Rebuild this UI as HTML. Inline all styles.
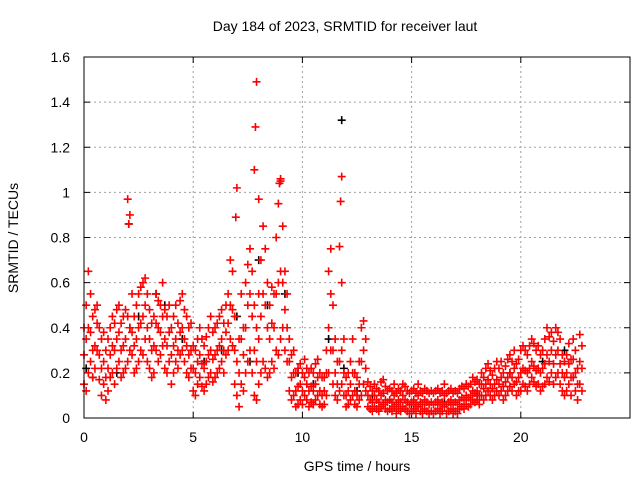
<!DOCTYPE html>
<html><head><meta charset="utf-8"><style>
body{margin:0;background:#fff;}
svg{display:block;font-family:"Liberation Sans",sans-serif;}
</style></head><body>
<svg id="chart" width="640" height="480">
<text x="345" y="31" font-size="14" text-anchor="middle">Day 184 of 2023, SRMTID for receiver laut</text>
<text x="18" y="238" font-size="14" text-anchor="middle" transform="rotate(-90 18 238)">SRMTID / TECUs</text>
<text x="357" y="471" font-size="14" text-anchor="middle">GPS time / hours</text>
<g id="grid"></g>
<g id="ticks"></g>
<g id="black"></g>
<g id="red"></g>
<rect x="84" y="57" width="546" height="361" fill="none" stroke="#000" stroke-width="1"/>
</svg>
<script>
const xTicks=[0,5,10,15,20];
const yTicks=[0,0.2,0.4,0.6,0.8,1,1.2,1.4,1.6];
const yTickLabels=["0","0.2","0.4","0.6","0.8","1","1.2","1.4","1.6"];
const startHour=0, stepHour=0.1;
const lowVals=[.15,.12,.20,.25,.18,.22,.30,.17,.10,.15,.08,.12,.18,.20,.15,.22,.25,.18,.20,.22,.25,.30,.28,.20,.22,.25,.30,.28,.35,.25,.22,.18,.20,.30,.25,.28,.32,.22,.20,.25,.15,.20,.25,.22,.28,.30,.25,.20,.18,.22,.12,.10,.15,.18,.14,.12,.15,.18,.20,.16,.18,.20,.22,.25,.20,.28,.30,.35,.32,.15,.10,.05,.15,.12,.20,.25,.30,.20,.10,.08,.15,.20,.25,.22,.18,.20,.25,.22,.30,.28,.35,.40,.30,.25,.12,.08,.10,.05,.06,.08,.06,.10,.08,.05,.07,.06,.08,.10,.06,.05,.06,.10,.20,.30,.15,.10,.08,.12,.15,.10,.05,.06,.08,.10,.06,.05,.08,.10,.15,.12,.05,.04,.03,.05,.04,.03,.05,.06,.04,.03,.04,.03,.05,.02,.04,.03,.05,.04,.03,.02,.03,.04,.02,.05,.03,.02,.04,.03,.02,.03,.02,.03,.04,.02,.03,.05,.02,.03,.04,.02,.03,.02,.04,.05,.04,.06,.05,.06,.08,.07,.08,.06,.10,.08,.10,.12,.10,.08,.10,.12,.10,.12,.08,.10,.12,.14,.12,.15,.10,.12,.12,.15,.14,.12,.15,.18,.16,.14,.15,.12,.14,.15,.18,.16,.20,.15,.18,.20,.15,.12,.10,.12,.15,.10,.18,.12,.08,.15,.12];
const midVals=[.28,.35,.40,.38,.30,.32,.42,.28,.22,.25,.18,.22,.28,.32,.30,.35,.38,.30,.32,.35,.45,.40,.38,.32,.35,.40,.42,.45,.50,.40,.35,.30,.32,.42,.40,.38,.45,.35,.32,.38,.28,.32,.35,.30,.38,.40,.35,.32,.28,.30,.22,.20,.25,.28,.24,.22,.25,.28,.30,.26,.28,.30,.32,.35,.30,.38,.42,.50,.48,.30,.25,.20,.35,.28,.40,.50,.55,.45,.30,.25,.35,.45,.55,.50,.40,.35,.42,.40,.55,.60,.65,.60,.48,.40,.25,.18,.20,.12,.14,.15,.12,.18,.15,.12,.14,.12,.15,.18,.12,.10,.12,.20,.40,.55,.30,.20,.15,.25,.30,.20,.10,.12,.15,.20,.12,.10,.15,.25,.30,.22,.10,.08,.07,.10,.08,.07,.10,.11,.08,.07,.08,.07,.10,.06,.08,.07,.10,.08,.07,.06,.07,.08,.06,.10,.07,.06,.08,.07,.06,.07,.06,.07,.08,.06,.07,.10,.06,.07,.08,.06,.07,.06,.08,.09,.08,.10,.09,.10,.12,.11,.12,.10,.15,.13,.15,.17,.15,.13,.15,.17,.15,.18,.14,.16,.18,.20,.18,.22,.16,.18,.20,.22,.21,.20,.22,.25,.23,.21,.22,.20,.22,.24,.28,.25,.30,.24,.28,.30,.24,.20,.18,.20,.24,.18,.26,.20,.15,.25,.22];
const highVals=[.40,.50,.65,.55,.45,.48,.50,.40,.35,.38,.30,.35,.40,.45,.42,.48,.50,.42,.45,.48,.97,.90,.55,.45,.50,.55,.58,.60,.62,.55,.48,.42,.45,.55,.52,.50,.60,.48,.45,.50,.40,.45,.50,.42,.52,.55,.48,.45,.40,.42,.32,.30,.35,.40,.35,.32,.36,.40,.45,.38,.40,.42,.45,.48,.42,.50,.55,.70,.65,.45,1.02,.35,.55,.40,.60,.68,.75,.65,.50,.40,.55,.70,.85,.75,.60,.50,.58,.55,.80,.95,1.05,.85,.65,.55,.35,.28,.30,.20,.22,.24,.20,.26,.22,.20,.22,.20,.24,.26,.20,.18,.18,.30,.65,.75,.50,.35,.25,.76,.60,.35,.18,.20,.25,.35,.20,.18,.25,.40,.43,.35,.16,.14,.12,.15,.13,.12,.16,.17,.14,.12,.13,.12,.15,.11,.13,.12,.15,.14,.12,.11,.12,.13,.11,.15,.12,.11,.13,.12,.11,.12,.11,.12,.13,.11,.12,.15,.11,.12,.13,.11,.12,.11,.13,.14,.13,.15,.14,.15,.18,.16,.17,.15,.20,.18,.22,.24,.21,.19,.22,.25,.22,.25,.20,.23,.26,.28,.25,.30,.24,.26,.30,.32,.30,.28,.32,.35,.33,.30,.32,.28,.30,.35,.40,.36,.38,.34,.40,.38,.35,.28,.25,.28,.33,.26,.35,.30,.22,.37,.32];
const spikeHours=[7.9,7.85,7.8,8.0,11.8,11.75,6.95,2.05,8.95,9.0];
const spikeVals=[1.49,1.29,1.10,0.97,1.07,0.96,0.89,0.86,1.04,1.06];
const blackHours=[0.1,0.4,1.5,2.05,2.1,3.3,4.5,6.3,7.0,7.6,8.0,8.4,9.2,9.8,10.5,11.2,11.8,11.9,12.5,13.2,14.0,15.0,16.5,18.0,19.5,21.0,22.0,2.5,3.7,5.5];
const blackVals=[0.22,0.18,0.2,0.86,0.4,0.55,0.35,0.3,0.45,0.25,0.7,0.5,0.55,0.2,0.15,0.35,1.32,0.22,0.12,0.1,0.08,0.06,0.07,0.1,0.2,0.25,0.3,0.45,0.5,0.25];

const X0=84,X1=630,Y0=418,Y1=57,XMAX=25,YMAX=1.6;
const xs=v=>X0+(X1-X0)*v/XMAX;
const ys=v=>Y0-(Y0-Y1)*v/YMAX;
const NS="http://www.w3.org/2000/svg";
function mk(tag,attrs,parent){const e=document.createElementNS(NS,tag);for(const k in attrs)e.setAttribute(k,attrs[k]);parent.appendChild(e);return e;}
const grid=document.getElementById('grid'),ticks=document.getElementById('ticks');
xTicks.forEach(t=>{
  const x=xs(t);
  if(t>0){const g=mk('line',{x1:x,x2:x,y1:Y0,y2:Y1,stroke:'#a0a0a0','stroke-dasharray':'2,3'},grid);
  
  }
  mk('line',{x1:x,x2:x,y1:Y0,y2:Y0-6,stroke:'#000'},ticks);
  mk('line',{x1:x,x2:x,y1:Y1,y2:Y1+6,stroke:'#000'},ticks);
  const l=mk('text',{x:x,y:Y0+24,'font-size':14,'text-anchor':'middle'},ticks);
  l.textContent=String(t);
  
  
});
yTicks.forEach((t,i)=>{
  const y=ys(t);
  if(t>0&&t<YMAX){const g=mk('line',{x1:X0,x2:X1,y1:y,y2:y,stroke:'#a0a0a0','stroke-dasharray':'2,3'},grid);
  
  }
  mk('line',{x1:X0,x2:X0+6,y1:y,y2:y,stroke:'#000'},ticks);
  mk('line',{x1:X1,x2:X1-6,y1:y,y2:y,stroke:'#000'},ticks);
  const l=mk('text',{x:X0-14,y:y+5,'font-size':14,'text-anchor':'end'},ticks);
  l.textContent=yTickLabels[i];
  
  
});
function cross(g,h,v,color){
  const x=xs(h),y=ys(v);
  const p=mk('path',{d:`M${x-4},${y}h8M${x},${y-4}v8`,stroke:color,'stroke-width':1.6,fill:'none'},g);
  
  
}
const bl=document.getElementById('black'),rd=document.getElementById('red');
blackHours.forEach((h,i)=>cross(bl,h,blackVals[i],'#000'));
[lowVals,midVals,highVals].forEach(arr=>arr.forEach((v,i)=>cross(rd,startHour+i*stepHour,v,'#ff0000')));
spikeHours.forEach((h,i)=>cross(rd,h,spikeVals[i],'#ff0000'));
</script>
</body></html>
